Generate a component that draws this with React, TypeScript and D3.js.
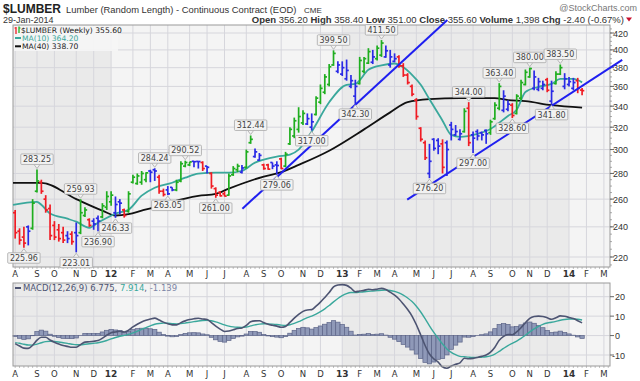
import React from "react";
import * as d3 from "d3";

// week 0 = week of Mon 1-Aug-2011, last bar = week of 27-Jan-2014
const START = new Date(2011, 7, 1);

const opens = [250,237,233,240,239,266,273,260,253,241,238,236,234,235,236,236,248,245,244,246,247,254,258,250,258,252,251,273,272,273,275,282,283,277,266,267,269,267,274,286,287,290,289.9,289,286,280,268,265,264,263,279,283,281,285,306,294,291,287,287,289,287,292,286,305,312,318,324,323,320,332,344,354,362,383,376,373,368,360,350,363,376,385,386,390,394,392,383,387,392,382,372,360,346,319,306,280,309,308,305,306,322,313,309,316,338,313,316,315,317,315,328,338,336,337,341,333,348,362,370,358,357,358,367,345,363,373,360,362,358,366,356.2];
const highs = [252,239,240,241,260,283.25,275,263,256,244,242,240,237,237,243,259.93,254,246,246,248,257,266,266,262,260,253,266,279,280,282,281,283,284.24,279,268,270,269,275,290,290.52,289.5,290,290,290,286,281,269,266,266,280,286,288,287,300,312.44,301,297,288,288,289,290,293,298,320,329,339,336,333,333,350,362,373,384,399.5,387,387,389,372,367,392,392,402,400,405,411.5,405,400,396,394,385,374,362,348,320,308,305,310,310,309,308,325,322,318,338,344,316,318,316,318,327,344,363.4,356,346,343,352,367,378,380,377,369,366,369,366,376,383.5,374,370,369,369,358.4];
const lows = [232,228,225.96,227.5,238,265,264,250,231,231,230,229,229,228,223.01,235,247,240,238,236.9,246,252,255,246.33,249,246.5,250,272,271,271,273,273,274,264,262,263.05,266,266,273,285,286,285,284,282,280,268,261,262,262,262.5,278,281,280,284,305,293,290.5,283,283,283.5,279.06,283.5,285,304,310,315,322,322,317,331,342,352,360,382,374,371,366,358,342.3,362,374,384,384,388,392,391,380,386,380,370,362,350,327,307,291,276.2,299,296,280,278,308,312,308,315,303,297,308,308,305,313,327,336,334,335,328.6,332,346,361,369,356,355,356,354,341.8,362,372,357,360,356,353,351];
const closes = [236,231,229,237,257,274,266,252,234,233,232,231,232,230,234,250,252,241,242,244,255,262,263,256,257,248,264,277,278,280,280.5,281,282,266,263.5,264,267,273,288,289,289.5,289.7,289.8,284,285,270,263,262.5,262.3,278,284,286,284.5,298,309,298,295,284,283.5,286,286.5,284,296,318,326,330,333,328,325,348,358,370,381,396,383,380,377,366,360,388,390,398,392,402,408,399,392,390,382,372,364,352,330,309,293,290,301,303,285,300,318,316,314,335,306,310,312,313,314,325,341,360,350,342,331,350,364,375,379,370,365,362,356,355,373,380,368,365,364,358,355.6];

// moving averages: [week index, value]
const ma10Points: [number, number][] = [[-0.5,255.8],[5,258],[6,255.8],[8,249.4],[12,245.7],[14,243.6],[17,239.4],[19,242.9],[23,249.4],[26,252.2],[29,262.6],[32,268.7],[36,272.6],[39,276.6],[42,279.8],[46,280.6],[49,280.6],[52,282.2],[55,288.9],[57,291.4],[60,294],[63,295.7],[65,300],[68,316],[72,343.9],[76,361.7],[78,362.7],[81,377.6],[84,382.5],[87,384.6],[89,380.4],[91,372.2],[93,361.7],[95,346.9],[98,326.1],[100,313],[102,311.2],[106,313.9],[109,318.4],[113,330.6],[115,336.6],[117,354.3],[120,359.5],[123,362.6],[125,367.8],[128,367.8],[130,364.2]];
const ma40Points: [number, number][] = [[-0.5,272.5],[6,272.5],[14,260],[20,251.5],[23,248],[26,249],[29,251.5],[33,255],[36,258],[42,262.5],[46,264],[49,268],[57,277.5],[61,281],[65,287],[72,299],[80,318],[86,334],[90,344],[95,347],[102,348],[110,348],[113,346],[117,345],[123,341],[130,338.7]];

// trendlines drawn on the chart: [week index, price]
const trendLines: [number, number][][] = [
  [[52.1, 252.9], [99.1, 436]],
  [[89.9, 259.6], [139.2, 388.6]],
];

const highLabelIdx = [5, 15, 32, 39, 54, 73, 84, 104, 111, 118, 125];
const lowLabelIdx = [2, 14, 19, 23, 35, 46, 60, 68, 78, 95, 105, 114, 123];

const priceTicks = [220, 240, 260, 280, 300, 320, 340, 360, 380, 400, 420];
const macdTicks = [20, 10, 0, -10];
const monthLabels = ["A","S","O","N","D","12","F","M","A","M","J","J","A","S","O","N","D","13","F","M","A","M","J","J","A","S","O","N","D","14","F","M"];

// EMA state before the first bar (read from the MACD starting level)
const ema12Seed = 253, ema26Seed = 256, signalSeed = -3.5;

const FONT = "DejaVu Sans, Verdana, sans-serif";
const ARIAL = "Liberation Sans, Arial, sans-serif";
const GREEN = "#1fae1f", RED = "#f01c24", BLUE = "#2a2ae6";
const TEAL = "#3aa89c", MACDC = "#4d5472";

export default function App() {
  const L = 13, R = 610;
  const pTop = 25, pBot = 267;
  const mTop = 283, mBot = 366;
  const x = d3.scaleLinear().domain([-0.5, 136.4]).range([L, R]);
  const y = d3.scaleLog().domain([220, 420]).range([257, 33]);
  const ym = d3.scaleLinear().domain([-10, 20]).range([355, 296.7]);
  const step = x(1) - x(0);

  const months = d3.timeMonth.range(new Date(2011, 7, 1), new Date(2014, 3, 1));
  const monthIdx = months.map((m) => Math.round((+d3.timeMonday.ceil(m) - +START) / (7 * 864e5)));
  const yearIdx = monthIdx.filter((_, k) => months[k].getMonth() === 0);
  const shadeEdges = [L, ...yearIdx.map((i) => x(i)), R];

  // MACD from weekly closes
  let e12 = ema12Seed, e26 = ema26Seed, sg = signalSeed;
  const macd: number[] = [], signal: number[] = [], hist: number[] = [];
  closes.forEach((c) => {
    e12 += (2 / 13) * (c - e12);
    e26 += (2 / 27) * (c - e26);
    const m = e12 - e26;
    sg += 0.2 * (m - sg);
    macd.push(m); signal.push(sg); hist.push(m - sg);
  });

  const colorOf = (i: number) => {
    const c = closes[i], o = opens[i];
    const pc = i > 0 ? closes[i - 1] : o;
    if (c > pc && c >= o) return GREEN;
    if (c < pc && c <= o) return RED;
    return BLUE;
  };

  const maLine = d3.line<[number, number]>().x((d) => x(d[0])).y((d) => y(d[1])).curve(d3.curveMonotoneX);
  const mLine = d3.line<number>().x((_, i) => x(i)).y((d) => ym(d)).curve(d3.curveMonotoneX);

  const gridColor = "#d6d6dc";
  const minorTicks = d3.range(215, 430, 5);

  const label = (i: number, hi: boolean, k: string) => {
    const v = hi ? highs[i] : lows[i];
    const txt = v.toFixed(2);
    const cx = x(i);
    const vy = y(v);
    const w = txt.length * 4.9 + 3;
    const h = 10.5;
    const by = hi ? vy - 5 - h : vy + 5;
    const tip = hi ? vy - 1 : vy + 1;
    const base = hi ? vy - 5 : vy + 5;
    return (
      <g key={k}>
        <path d={`M${cx - 3},${base}L${cx},${tip}L${cx + 3},${base}`} fill="#f2f2f2" stroke="#a8a8a8" strokeWidth={0.8} />
        <rect x={cx - w / 2} y={by} width={w} height={h} fill="#f2f2f2" stroke="#a8a8a8" strokeWidth={0.8} rx={1} />
        <text x={cx} y={by + 8.3} textAnchor="middle" fontSize={8} fontFamily={FONT} fill="#444">{txt}</text>
      </g>
    );
  };

  const xLabels = (yy: number, kp: string) =>
    monthIdx.map((i, k) => (
      <text key={kp + k} x={x(i)} y={yy} textAnchor="middle" fontSize={months[k].getMonth() === 0 ? 9 : 8.5}
        fontWeight={months[k].getMonth() === 0 ? "bold" : "normal"} fontFamily={FONT} fill="#333">{monthLabels[k]}</text>
    ));

  const weekTicks = d3.range(0, 137);

  return (
    <svg width={640} height={381} style={{ position: "absolute", left: 0, top: 0, background: "#fff" }}>
      <rect width={640} height={381} fill="#fff" />
      {/* header */}
      <text x={3} y={12.5} fontSize={12} fontWeight="bold" fontFamily={ARIAL} fill="#222">$LUMBER</text>
      <text x={66} y={12.5} fontSize={9.4} fontFamily={ARIAL} fill="#333">Lumber (Random Length) - Continuous Contract (EOD)</text>
      <text x={304} y={12.5} fontSize={8} fontFamily={ARIAL} fill="#333">CME</text>
      <text x={637} y={11} textAnchor="end" fontSize={9} fontFamily={ARIAL} fill="#777">@StockCharts.com</text>
      <text x={3} y={23} fontSize={9} fontFamily={ARIAL} fill="#333">29-Jan-2014</text>
      <text x={624} y={23} textAnchor="end" fontSize={9.5} fontFamily={ARIAL} fill="#333">
        <tspan fontWeight="bold">Open</tspan> 356.20 <tspan fontWeight="bold">High</tspan> 358.40 <tspan fontWeight="bold">Low</tspan> 351.00 <tspan fontWeight="bold">Close</tspan> 355.60 <tspan fontWeight="bold">Volume</tspan> 1,398 <tspan fontWeight="bold">Chg</tspan> -2.40 (-0.67%)
      </text>
      <path d="M626,17.5L632,17.5L629,21.5Z" fill="#c8102e" />

      {/* price panel */}
      {shadeEdges.slice(0, -1).map((e, k) => (
        <rect key={"ps" + k} x={e} y={pTop} width={shadeEdges[k + 1] - e} height={pBot - pTop} fill={k % 2 === 0 ? "#eaeaea" : "#f4f4f4"} />
      ))}
      {monthIdx.map((i, k) => x(i) < R ? <line key={"pv" + k} x1={x(i)} x2={x(i)} y1={pTop} y2={pBot} stroke={gridColor} strokeWidth={1} /> : null)}
      {priceTicks.map((t) => <line key={"ph" + t} x1={L} x2={R} y1={y(t)} y2={y(t)} stroke={gridColor} strokeWidth={1} />)}
      <rect x={L} y={pTop} width={R - L} height={pBot - pTop} fill="none" stroke="#9a9a9a" strokeWidth={1} />
      {minorTicks.map((t) => y(t) > pTop && y(t) < pBot ? <line key={"mt" + t} x1={R} x2={R + 2} y1={y(t)} y2={y(t)} stroke="#888" strokeWidth={0.7} /> : null)}
      {priceTicks.map((t) => (
        <g key={"pt" + t}>
          <line x1={R} x2={R + 4} y1={y(t)} y2={y(t)} stroke="#666" strokeWidth={1} />
          <text x={613} y={y(t) + 3.5} fontSize={9} fontFamily={ARIAL} fill="#333">{t}</text>
        </g>
      ))}
      {weekTicks.map((i) => x(i) < R ? <line key={"wt" + i} x1={x(i)} x2={x(i)} y1={pBot} y2={pBot + 2} stroke="#999" strokeWidth={0.6} /> : null)}
      {xLabels(277, "xl")}

      {/* moving averages */}
      <path d={maLine(ma40Points) || ""} fill="none" stroke="#111" strokeWidth={1.8} />
      <path d={maLine(ma10Points) || ""} fill="none" stroke={TEAL} strokeWidth={1.8} />

      {/* OHLC bars */}
      {closes.map((c, i) => {
        const cx = x(i);
        const col = colorOf(i);
        return (
          <g key={"b" + i} stroke={col} strokeWidth={1.7}>
            <line x1={cx} x2={cx} y1={y(highs[i])} y2={y(lows[i])} />
            <line x1={cx - 2.2} x2={cx} y1={y(opens[i])} y2={y(opens[i])} />
            <line x1={cx} x2={cx + 2.2} y1={y(c)} y2={y(c)} />
          </g>
        );
      })}

      {/* trendlines */}
      {trendLines.map((tl, k) => (
        <line key={"tl" + k} x1={x(tl[0][0])} y1={y(tl[0][1])} x2={x(tl[1][0])} y2={y(tl[1][1])} stroke="#1f1ff0" strokeWidth={2} />
      ))}

      {/* price labels */}
      {highLabelIdx.map((i) => label(i, true, "h" + i))}
      {lowLabelIdx.map((i) => label(i, false, "l" + i))}

      {/* legend */}
      <rect x={L + 1} y={pTop + 1} width={104} height={25} fill="#f6f6f6" opacity={0.9} />
      <line x1={16} x2={16} y1={27} y2={34} stroke={RED} strokeWidth={1.3} />
      <line x1={14.5} x2={16} y1={28} y2={28} stroke={RED} strokeWidth={1} />
      <line x1={19} x2={19} y1={26.5} y2={33} stroke={GREEN} strokeWidth={1.3} />
      <line x1={19} x2={20.5} y1={28} y2={28} stroke={GREEN} strokeWidth={1} />
      <text x={21} y={32.5} fontSize={7.6} fontFamily={FONT} fill="#222">$LUMBER (Weekly) 355.60</text>
      <line x1={15} x2={21} y1={38} y2={38} stroke={TEAL} strokeWidth={2} />
      <text x={22} y={40.8} fontSize={7.6} fontFamily={FONT} fill={TEAL}>MA(10) 364.20</text>
      <line x1={15} x2={21} y1={46.3} y2={46.3} stroke="#111" strokeWidth={2} />
      <text x={22} y={49.1} fontSize={7.6} fontFamily={FONT} fill="#222">MA(40) 338.70</text>

      {/* MACD panel */}
      {shadeEdges.slice(0, -1).map((e, k) => (
        <rect key={"ms" + k} x={e} y={mTop} width={shadeEdges[k + 1] - e} height={mBot - mTop} fill={k % 2 === 0 ? "#eaeaea" : "#f4f4f4"} />
      ))}
      {monthIdx.map((i, k) => x(i) < R ? <line key={"mv" + k} x1={x(i)} x2={x(i)} y1={mTop} y2={mBot} stroke={gridColor} strokeWidth={1} /> : null)}
      {macdTicks.map((t) => <line key={"mh" + t} x1={L} x2={R} y1={ym(t)} y2={ym(t)} stroke={gridColor} strokeWidth={1} />)}
      {hist.map((h, i) => (
        <rect key={"hi" + i} x={x(i) - step / 2} width={step} y={Math.min(ym(0), ym(h))} height={Math.abs(ym(h) - ym(0))}
          fill="#8f99b8" stroke="#5c6488" strokeWidth={0.7} />
      ))}
      <path d={mLine(signal) || ""} fill="none" stroke={TEAL} strokeWidth={1.4} />
      <path d={mLine(macd) || ""} fill="none" stroke={MACDC} strokeWidth={1.6} />
      <rect x={L} y={mTop} width={R - L} height={mBot - mTop} fill="none" stroke="#9a9a9a" strokeWidth={1} />
      {macdTicks.map((t) => (
        <g key={"mt2" + t}>
          <line x1={R} x2={R + 4} y1={ym(t)} y2={ym(t)} stroke="#666" strokeWidth={1} />
          <text x={t < 0 ? 612 : 615} y={ym(t) + 3.5} fontSize={9} fontFamily={ARIAL} fill="#333">{t}</text>
        </g>
      ))}
      <line x1={15} x2={21} y1={288} y2={288} stroke={MACDC} strokeWidth={2} />
      <text x={23} y={291} fontSize={8.5} fontFamily={FONT} fill={MACDC}>
        MACD(12,26,9) 6.775, <tspan fill={TEAL}>7.914</tspan>, <tspan fill="#7c84a4">-1.139</tspan>
      </text>
      {weekTicks.map((i) => x(i) < R ? <line key={"wt2" + i} x1={x(i)} x2={x(i)} y1={mBot} y2={mBot + 2} stroke="#999" strokeWidth={0.6} /> : null)}
      {xLabels(377, "xm")}
    </svg>
  );
}
